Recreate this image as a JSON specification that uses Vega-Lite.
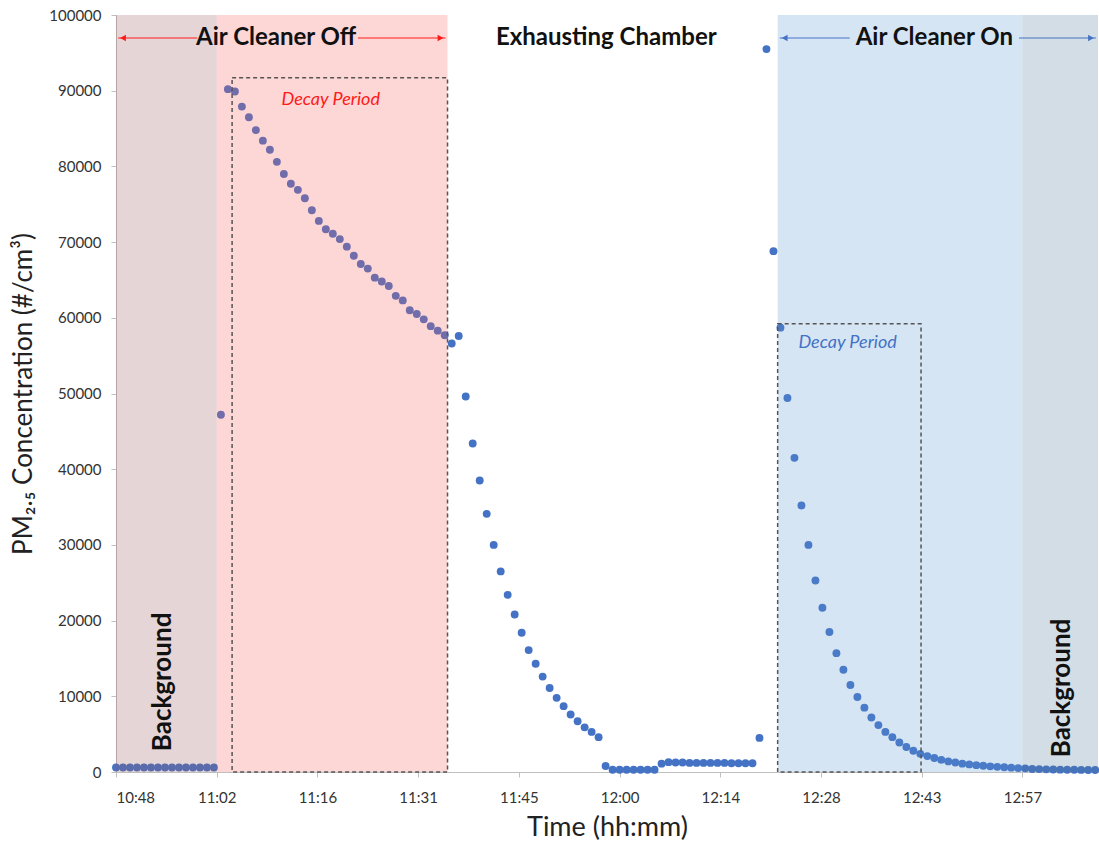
{
  "$schema": "https://vega.github.io/schema/vega-lite/v6.json",
  "width": 982,
  "height": 757,
  "autosize": "none",
  "padding": {"left": 116, "top": 15, "right": 1, "bottom": 75},
  "background": "white",
  "config": {
    "view": {"stroke": null},
    "font": "Lato",
    "axis": {"domainColor": "#BFBFBF", "tickColor": "#BFBFBF", "labelColor": "#333333", "titleColor": "#222222", "labelFont": "Lato", "titleFont": "Lato", "grid": false, "titleFontWeight": "normal"}
  },
  "datasets": {
    "pm": [
      {"t": 648, "v": 600}, {"t": 649, "v": 600}, {"t": 650, "v": 600}, {"t": 651, "v": 600}, {"t": 652, "v": 600},
      {"t": 653, "v": 600}, {"t": 654, "v": 600}, {"t": 655, "v": 600}, {"t": 656, "v": 600}, {"t": 657, "v": 600},
      {"t": 658, "v": 600}, {"t": 659, "v": 600}, {"t": 660, "v": 600}, {"t": 661, "v": 600}, {"t": 662, "v": 600},
      {"t": 663, "v": 47200}, {"t": 664, "v": 90200}, {"t": 665, "v": 89900}, {"t": 666, "v": 87900}, {"t": 667, "v": 86500},
      {"t": 668, "v": 84800}, {"t": 669, "v": 83400}, {"t": 670, "v": 82200}, {"t": 671, "v": 80600}, {"t": 672, "v": 79000},
      {"t": 673, "v": 77700}, {"t": 674, "v": 76900}, {"t": 675, "v": 75800}, {"t": 676, "v": 74200}, {"t": 677, "v": 72800},
      {"t": 678, "v": 71700}, {"t": 679, "v": 71100}, {"t": 680, "v": 70400}, {"t": 681, "v": 69400}, {"t": 682, "v": 68200},
      {"t": 683, "v": 67100}, {"t": 684, "v": 66500}, {"t": 685, "v": 65300}, {"t": 686, "v": 64800}, {"t": 687, "v": 64200},
      {"t": 688, "v": 62900}, {"t": 689, "v": 62300}, {"t": 690, "v": 61000}, {"t": 691, "v": 60500}, {"t": 692, "v": 59800},
      {"t": 693, "v": 58900}, {"t": 694, "v": 58300}, {"t": 695, "v": 57700}, {"t": 696, "v": 56600}, {"t": 697, "v": 57600},
      {"t": 698, "v": 49600}, {"t": 699, "v": 43400}, {"t": 700, "v": 38500}, {"t": 701, "v": 34100}, {"t": 702, "v": 30000},
      {"t": 703, "v": 26500}, {"t": 704, "v": 23400}, {"t": 705, "v": 20800}, {"t": 706, "v": 18400}, {"t": 707, "v": 16100},
      {"t": 708, "v": 14300}, {"t": 709, "v": 12600}, {"t": 710, "v": 11100}, {"t": 711, "v": 9800}, {"t": 712, "v": 8700},
      {"t": 713, "v": 7600}, {"t": 714, "v": 6700}, {"t": 715, "v": 5900}, {"t": 716, "v": 5300}, {"t": 717, "v": 4600},
      {"t": 718, "v": 800}, {"t": 719, "v": 300}, {"t": 720, "v": 300}, {"t": 721, "v": 300}, {"t": 722, "v": 300},
      {"t": 723, "v": 300}, {"t": 724, "v": 300}, {"t": 725, "v": 300}, {"t": 726, "v": 1100}, {"t": 727, "v": 1300},
      {"t": 728, "v": 1250}, {"t": 729, "v": 1250}, {"t": 730, "v": 1200}, {"t": 731, "v": 1200}, {"t": 732, "v": 1200},
      {"t": 733, "v": 1200}, {"t": 734, "v": 1200}, {"t": 735, "v": 1200}, {"t": 736, "v": 1150}, {"t": 737, "v": 1150},
      {"t": 738, "v": 1150}, {"t": 739, "v": 1150}, {"t": 740, "v": 4500}, {"t": 741, "v": 95500}, {"t": 742, "v": 68800},
      {"t": 743, "v": 58700}, {"t": 744, "v": 49400}, {"t": 745, "v": 41500}, {"t": 746, "v": 35200}, {"t": 747, "v": 30000},
      {"t": 748, "v": 25300}, {"t": 749, "v": 21700}, {"t": 750, "v": 18500}, {"t": 751, "v": 15700}, {"t": 752, "v": 13500},
      {"t": 753, "v": 11500}, {"t": 754, "v": 9900}, {"t": 755, "v": 8500}, {"t": 756, "v": 7200}, {"t": 757, "v": 6200},
      {"t": 758, "v": 5300}, {"t": 759, "v": 4600}, {"t": 760, "v": 3900}, {"t": 761, "v": 3300}, {"t": 762, "v": 2800},
      {"t": 763, "v": 2400}, {"t": 764, "v": 2100}, {"t": 765, "v": 1850}, {"t": 766, "v": 1600}, {"t": 767, "v": 1400},
      {"t": 768, "v": 1250}, {"t": 769, "v": 1100}, {"t": 770, "v": 1000}, {"t": 771, "v": 900}, {"t": 772, "v": 820},
      {"t": 773, "v": 750}, {"t": 774, "v": 680}, {"t": 775, "v": 620}, {"t": 776, "v": 570}, {"t": 777, "v": 520},
      {"t": 778, "v": 480}, {"t": 779, "v": 400}, {"t": 780, "v": 380}, {"t": 781, "v": 350}, {"t": 782, "v": 330},
      {"t": 783, "v": 310}, {"t": 784, "v": 300}, {"t": 785, "v": 290}, {"t": 786, "v": 280}, {"t": 787, "v": 270},
      {"t": 788, "v": 260}
    ],
    "regions": [
      {"region": "bgLeft", "t1": 648, "t2": 662.4},
      {"region": "off", "t1": 662.4, "t2": 695.4},
      {"region": "on", "t1": 742.6, "t2": 777.6},
      {"region": "bgRight", "t1": 777.6, "t2": 788.4}
    ],
    "boxes": [
      {"box": "off", "t1": 664.6, "t2": 695.4, "bottom": 0, "top": 91700},
      {"box": "on", "t1": 742.6, "t2": 763.1, "bottom": 0, "top": 59200}
    ],
    "arrows": [
      {"phase": "off", "t1": 648.3, "t2": 659.6, "v": 96960},
      {"phase": "off", "t1": 682.6, "t2": 695.1, "v": 96960},
      {"phase": "on", "t1": 742.9, "t2": 752.9, "v": 96960},
      {"phase": "on", "t1": 777.1, "t2": 788.1, "v": 96960}
    ],
    "heads": [
      {"phase": "off", "dir": "L", "t": 649.0, "v": 96960},
      {"phase": "off", "dir": "R", "t": 694.4, "v": 96960},
      {"phase": "on", "dir": "L", "t": 743.6, "v": 96960},
      {"phase": "on", "dir": "R", "t": 787.4, "v": 96960}
    ]
  },
  "resolve": {"scale": {"color": "independent", "shape": "independent"}},
  "layer": [
    {
      "data": {"name": "pm"},
      "mark": {"type": "circle", "size": 62, "opacity": 1, "color": "#4472C4"},
      "encoding": {
        "x": {"field": "t", "type": "quantitative",
          "scale": {"domain": [648, 788.4], "nice": false, "zero": false},
          "axis": {"values": [648, 662.4, 676.8, 691.2, 705.6, 720, 734.4, 748.8, 763.2, 777.6],
            "labelExpr": "floor(datum.value/60) + ':' + (floor(datum.value%60) < 10 ? '0' : '') + floor(datum.value%60)",
            "title": "Time (hh:mm)", "titleFontSize": 27, "labelFontSize": 15, "tickSize": 5, "labelPadding": 13, "titlePadding": 9}},
        "y": {"field": "v", "type": "quantitative",
          "scale": {"domain": [0, 100000], "nice": false},
          "axis": {"values": [0, 10000, 20000, 30000, 40000, 50000, 60000, 70000, 80000, 90000, 100000], "format": "d",
            "title": "PM₂.₅ Concentration (#/cm³)", "titleFontSize": 26, "labelFontSize": 15, "tickSize": 5, "labelPadding": 10, "titlePadding": 12}}
      }
    },
    {
      "data": {"name": "regions"},
      "mark": {"type": "rect", "opacity": 0.25},
      "encoding": {
        "x": {"field": "t1", "type": "quantitative"},
        "x2": {"field": "t2"},
        "color": {"field": "region", "type": "nominal", "legend": null,
          "scale": {"domain": ["bgLeft", "off", "on", "bgRight"], "range": ["#9B5760", "#F75B5B", "#5B97D3", "#4F7797"]}}
      }
    },
    {
      "data": {"name": "boxes"},
      "mark": {"type": "rect", "filled": false, "stroke": "#555555", "strokeWidth": 1.5, "strokeDash": [4, 3]},
      "encoding": {
        "x": {"field": "t1", "type": "quantitative"},
        "x2": {"field": "t2"},
        "y": {"field": "bottom", "type": "quantitative"},
        "y2": {"field": "top"}
      }
    },
    {
      "data": {"name": "arrows"},
      "mark": {"type": "rule", "strokeWidth": 1.2},
      "encoding": {
        "x": {"field": "t1", "type": "quantitative"},
        "x2": {"field": "t2"},
        "y": {"field": "v", "type": "quantitative"},
        "color": {"field": "phase", "type": "nominal", "legend": null, "scale": {"domain": ["off", "on"], "range": ["#FF1A1A", "#4472C4"]}}
      }
    },
    {
      "data": {"name": "heads"},
      "mark": {"type": "point", "filled": true, "size": 45, "opacity": 1},
      "encoding": {
        "x": {"field": "t", "type": "quantitative"},
        "y": {"field": "v", "type": "quantitative"},
        "shape": {"field": "dir", "type": "nominal", "legend": null, "scale": {"domain": ["L", "R"], "range": ["triangle-left", "triangle-right"]}},
        "color": {"field": "phase", "type": "nominal", "legend": null, "scale": {"domain": ["off", "on"], "range": ["#FF1A1A", "#4472C4"]}}
      }
    },
    {
      "mark": {"type": "text", "font": "Lato", "fontWeight": "bold", "fontSize": 24, "color": "#111111", "align": "center", "baseline": "middle"},
      "data": {"values": [
        {"label": "Air Cleaner Off", "t": 670.9, "v": 96960},
        {"label": "Exhausting Chamber", "t": 718.1, "v": 96960},
        {"label": "Air Cleaner On", "t": 765.0, "v": 96960}
      ]},
      "encoding": {
        "x": {"field": "t", "type": "quantitative"},
        "y": {"field": "v", "type": "quantitative"},
        "text": {"field": "label"}
      }
    },
    {
      "mark": {"type": "text", "font": "Lato", "fontStyle": "italic", "fontSize": 18, "align": "center", "baseline": "middle"},
      "data": {"values": [
        {"label": "Decay Period", "phase": "off", "t": 678.7, "v": 88770},
        {"label": "Decay Period", "phase": "on", "t": 752.6, "v": 56670}
      ]},
      "encoding": {
        "x": {"field": "t", "type": "quantitative"},
        "y": {"field": "v", "type": "quantitative"},
        "text": {"field": "label"},
        "color": {"field": "phase", "type": "nominal", "legend": null, "scale": {"domain": ["off", "on"], "range": ["#FF1A1A", "#4472C4"]}}
      }
    },
    {
      "mark": {"type": "text", "font": "Lato", "fontWeight": "bold", "fontSize": 26, "color": "#111111", "angle": 270, "align": "center", "baseline": "middle"},
      "data": {"values": [
        {"label": "Background", "t": 654.7, "v": 11900},
        {"label": "Background", "t": 783.3, "v": 11100}
      ]},
      "encoding": {
        "x": {"field": "t", "type": "quantitative"},
        "y": {"field": "v", "type": "quantitative"},
        "text": {"field": "label"}
      }
    }
  ]
}
